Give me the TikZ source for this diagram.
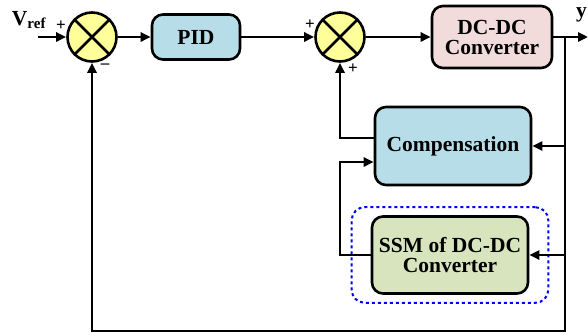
\documentclass[tikz,border=0pt]{standalone}
\usepackage{fontspec}
\setmainfont{Liberation Serif}
\usetikzlibrary{arrows.meta,positioning,fit}

\definecolor{sumfill}{HTML}{FFFF99}
\definecolor{bluefill}{HTML}{B7DDE8}
\definecolor{pinkfill}{HTML}{F2DCDB}
\definecolor{greenfill}{HTML}{D7E4BD}

\tikzset{
  block/.style={draw,line width=2.6pt,rounded corners=11pt,align=center,
    font=\fontsize{21.5}{23}\selectfont\bfseries},
  summer/.style={draw,circle,line width=2.6pt,fill=sumfill,minimum size=49pt,inner sep=0pt},
  sign/.style={font=\fontsize{17}{17}\selectfont\bfseries,inner sep=0pt},
  wire/.style={line width=2.6pt},
  sig/.style={wire,-{Triangle[length=10pt,width=9pt]}}
}

\begin{document}
\begin{tikzpicture}[x=1pt,y=-1pt]
            \useasboundingbox (0,0) rectangle (588,335);

            \node[summer] (S1) at (92,37) {};
            \node[summer] (S2) at (340,37) {};
            \draw[wire] (S1.north west) -- (S1.south east) (S1.north east) -- (S1.south west);
            \draw[wire] (S2.north west) -- (S2.south east) (S2.north east) -- (S2.south west);

            \node[block,fill=bluefill,minimum width=88pt,minimum height=45pt] (PID) at (196,37) {PID};
            \node[block,fill=pinkfill,minimum width=120pt,minimum height=62pt] (DC) at (492,37) {DC-DC\\[-3pt]Converter};
            \node[block,fill=bluefill,minimum width=156pt,minimum height=78pt] (Comp) at (453,146) {Compensation};
            \node[block,fill=greenfill,minimum width=156pt,minimum height=77pt] (SSM) at (450,255) {SSM of DC-DC\\[-3pt]Converter};
            \node[draw=blue,dashed,line width=2pt,rounded corners=13pt,fit=(SSM),
                  inner xsep=19pt,inner ysep=8pt] (Box) {};

            \node[font=\fontsize{21.5}{23}\selectfont\bfseries] (Vref) at (29,20) {V\textsubscript{ref}};
            \node[font=\fontsize{21.5}{23}\selectfont\bfseries,anchor=east,inner sep=1pt] (Y) at (588,15) {y};
            \node[sign] (p1) at (61,26) {+};
            \node[sign] (m1) at (105,66) {--};
            \node[sign] (p2) at (310,25) {+};
            \node[sign] (p3) at (353,69) {+};

            \coordinate (In) at (38,37);
            \coordinate (Br) at (565,37);
            \coordinate (Out) at (588,37);
            \coordinate (Bot) at (565,331);

            \draw[sig] (In) -- (S1.west);
            \draw[sig] (S1.east) -- (PID.west);
            \draw[sig] (PID.east) -- (S2.west);
            \draw[sig] (S2.east) -- (DC.west);
            \draw[sig] (DC.east) -- (Out);

            % feedback paths
            \draw[sig] (Br) -- (Bot) -| (S1.south);
            \draw[sig] (Br |- Comp.east) -- (Comp.east);
            \draw[sig] (Br |- SSM.east) -- (SSM.east);
            \draw[sig] ([yshift=8pt]Comp.west) -| (S2.south);
            \draw[sig] (SSM.west) -- (S2.south |- SSM.west) |- ([yshift=-16pt]Comp.west);

        \end{tikzpicture}
\end{document}
